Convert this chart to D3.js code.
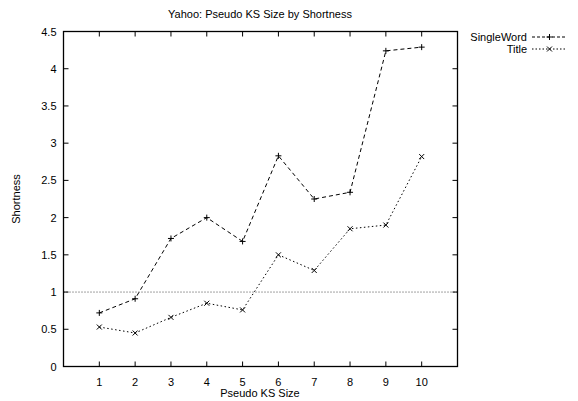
<!DOCTYPE html>
<html><head><meta charset="utf-8">
<script src="https://cdn.jsdelivr.net/npm/d3@7"></script>
<style>body{margin:0;background:#fff}svg{display:block}text{font-family:"Liberation Sans",Arial,sans-serif;font-size:11px;fill:#000}</style>
</head><body>
<script>
const sizes = [1,2,3,4,5,6,7,8,9,10];
const singleWord = [0.72,0.91,1.72,2.00,1.68,2.83,2.25,2.34,4.24,4.29];
const title = [0.53,0.45,0.66,0.85,0.76,1.50,1.29,1.85,1.90,2.82];
const yTicks = [0,0.5,1,1.5,2,2.5,3,3.5,4,4.5];
const xTicks = [1,2,3,4,5,6,7,8,9,10];
const seriesNames = ["SingleWord","Title"];

const W=578,H=401, L=63.5, R=457.5, T=31.5, B=366.5;
const svg=d3.select("body").append("svg").attr("width",W).attr("height",H);
const x=d3.scaleLinear().domain([0,11]).range([L,R]);
const y=d3.scaleLinear().domain([0,4.5]).range([B,T]);
const tl=5;

// reference line y=1
svg.append("line").attr("x1",L).attr("x2",R).attr("y1",y(1)).attr("y2",y(1))
  .attr("stroke","#444").attr("stroke-width",1).attr("stroke-dasharray","1,2");

const g=svg.append("g");
yTicks.forEach(v=>{
  g.append("line").attr("x1",L).attr("x2",L+tl).attr("y1",y(v)).attr("y2",y(v)).attr("stroke","#000");
  g.append("line").attr("x1",R).attr("x2",R-tl).attr("y1",y(v)).attr("y2",y(v)).attr("stroke","#000");
  g.append("text").attr("x",L-7).attr("y",y(v)+4).attr("text-anchor","end").text(d3.format("")(v));
});
xTicks.forEach(v=>{
  g.append("line").attr("x1",x(v)).attr("x2",x(v)).attr("y1",B).attr("y2",B-tl).attr("stroke","#000");
  g.append("line").attr("x1",x(v)).attr("x2",x(v)).attr("y1",T).attr("y2",T+tl).attr("stroke","#000");
  g.append("text").attr("x",x(v)).attr("y",B+19).attr("text-anchor","middle").text(v);
});
svg.append("rect").attr("x",L).attr("y",T).attr("width",R-L).attr("height",B-T)
  .attr("fill","none").attr("stroke","#000").attr("stroke-width",1.3);

const line=d3.line().x((d,i)=>x(sizes[i])).y(d=>y(d));
function plus(sel,cx,cy){const s=3;
  sel.append("path").attr("d",`M${cx-s},${cy}H${cx+s}M${cx},${cy-s}V${cy+s}`).attr("stroke","#000").attr("stroke-width",1);}
function cross(sel,cx,cy){const s=2.5;
  sel.append("path").attr("d",`M${cx-s},${cy-s}L${cx+s},${cy+s}M${cx-s},${cy+s}L${cx+s},${cy-s}`).attr("stroke","#000").attr("stroke-width",1);}

svg.append("path").datum(singleWord).attr("d",line).attr("fill","none").attr("stroke","#000").attr("stroke-width",1).attr("stroke-dasharray","4,3");
svg.append("path").datum(title).attr("d",line).attr("fill","none").attr("stroke","#000").attr("stroke-width",1).attr("stroke-dasharray","1.5,2.5");
singleWord.forEach((v,i)=>plus(svg,x(sizes[i]),y(v)));
title.forEach((v,i)=>cross(svg,x(sizes[i]),y(v)));

// legend
const lx=527, ly=[37,49];
seriesNames.forEach((n,i)=>{
  svg.append("text").attr("x",lx).attr("y",ly[i]+4).attr("text-anchor","end").text(n);
  svg.append("line").attr("x1",532).attr("x2",567).attr("y1",ly[i]).attr("y2",ly[i]).attr("stroke","#000")
    .attr("stroke-dasharray",i===0?"3,2":"1.5,2");
  if(i===0) plus(svg,549.5,ly[i]); else cross(svg,549.5,ly[i]);
});

svg.append("text").attr("x",260).attr("y",18).attr("text-anchor","middle").text("Yahoo: Pseudo KS Size by Shortness");
svg.append("text").attr("x",260).attr("y",397).attr("text-anchor","middle").text("Pseudo KS Size");
svg.append("text").attr("transform","translate(20,199) rotate(-90)").attr("text-anchor","middle").text("Shortness");
</script>
</body></html>
